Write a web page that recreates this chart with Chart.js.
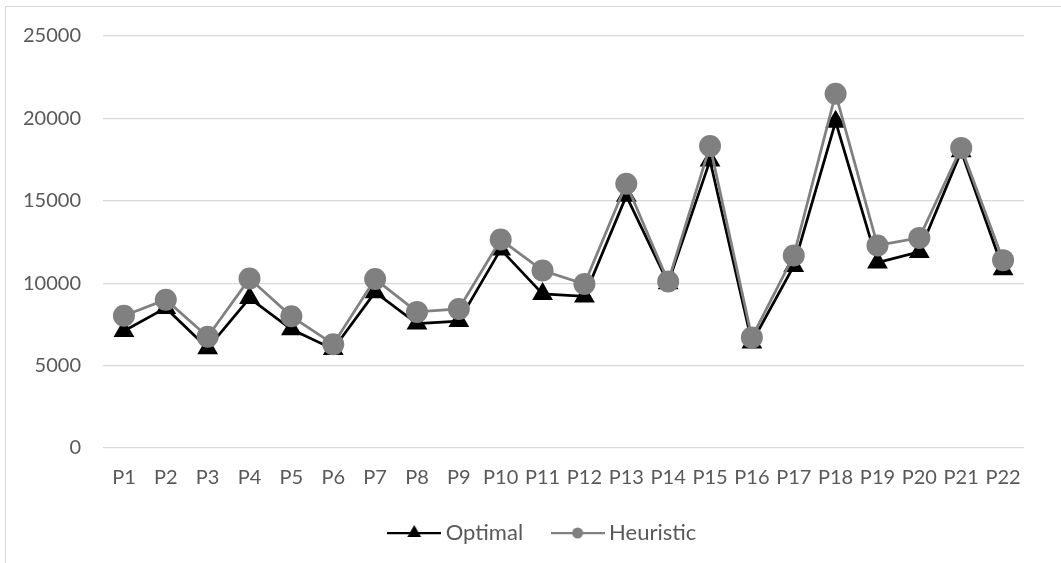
<!DOCTYPE html>
<html><head><meta charset="utf-8">
<script src="https://cdn.jsdelivr.net/npm/chart.js@4/dist/chart.umd.min.js"></script>
<style>
html,body{margin:0;padding:0;background:#fff;}
#wrap{position:relative;width:1061px;height:563px;overflow:hidden;background:#fff;}
#frame{position:absolute;left:5px;top:6px;width:1070px;height:570px;border-left:1.5px solid #d9d9d9;border-top:1.5px solid #d9d9d9;}
canvas{position:absolute;left:0;top:0;}
</style></head>
<body><div id="wrap"><div id="frame"></div><canvas id="c" width="1061" height="563"></canvas></div>
<script>
const categories = ["P1","P2","P3","P4","P5","P6","P7","P8","P9","P10","P11","P12","P13","P14","P15","P16","P17","P18","P19","P20","P21","P22"];
const optimal = [7100,8500,6050,9100,7200,6000,9450,7550,7700,12050,9350,9200,15300,10000,17450,6400,11050,19800,11250,11900,18000,10850];
const heuristic = [8030,9000,6750,10280,7990,6300,10250,8260,8440,12650,10770,9950,16040,10100,18330,6710,11680,21490,12290,12750,18210,11400];
const yTicks = [0,5000,10000,15000,20000,25000];
const seriesNames = ["Optimal","Heuristic"];
const seriesColors = ["#000000","#808080"];
const seriesMarkers = ["triangle","circle"];

const FONT = "Lato";
const TEXT = "#595959";

function legendIcon(color, marker){
  const c = document.createElement('canvas');
  c.width = 54; c.height = 18;
  const g = c.getContext('2d');
  g.strokeStyle = color; g.lineWidth = 2.25;
  g.beginPath(); g.moveTo(0,9); g.lineTo(54,9); g.stroke();
  g.fillStyle = color;
  g.beginPath();
  if (marker === 'triangle') {
    const r = 8;
    g.moveTo(27, 9 - r);
    g.lineTo(27 + r*0.866, 9 + r/2);
    g.lineTo(27 - r*0.866, 9 + r/2);
    g.closePath();
  } else {
    g.arc(27, 9, 5.5, 0, Math.PI*2);
  }
  g.fill();
  return c;
}

const datasets = seriesNames.map((name,i)=>({
  label: name,
  data: i === 0 ? optimal : heuristic,
  borderColor: seriesColors[i],
  backgroundColor: seriesColors[i],
  borderWidth: 2.75,
  pointStyle: seriesMarkers[i],
  pointRadius: i === 0 ? 12 : 11,
  pointHoverRadius: i === 0 ? 12 : 11,
  pointBorderWidth: 0,
  pointBackgroundColor: seriesColors[i],
  tension: 0,
  order: i === 0 ? 2 : 1
}));

const legendShift = {
  id: 'legendShift',
  afterLayout(chart){
    const l = chart.legend;
    if (l) { l.left += 33; l.right += 33; }
  }
};

new Chart(document.getElementById('c'), {
  type: 'line',
  data: { labels: categories, datasets },
  plugins: [legendShift],
  options: {
    responsive: false,
    animation: false,
    devicePixelRatio: 1,
    layout: { padding: { left: 0, right: 37, top: 36, bottom: 9 } },
    plugins: {
      tooltip: { enabled: false },
      legend: {
        position: 'bottom',
        labels: {
          usePointStyle: true,
          pointStyleWidth: 41,
          boxHeight: 18,
          padding: 34,
          color: TEXT,
          font: { family: FONT, size: 22 },
          generateLabels(chart){
            return chart.data.datasets.map((ds,i)=>({
              text: ds.label,
              fillStyle: ds.borderColor,
              strokeStyle: ds.borderColor,
              lineWidth: 0,
              pointStyle: legendIcon(ds.borderColor, seriesMarkers[i]),
              datasetIndex: i,
              hidden: false,
              fontColor: TEXT
            }));
          }
        }
      }
    },
    scales: {
      x: {
        offset: true,
        grid: { display: false, drawTicks: false },
        border: { display: false },
        ticks: { color: TEXT, font: { family: FONT, size: 20 }, padding: 18, maxRotation: 0, autoSkip: false },
        afterFit(s){ s.height = 40; }
      },
      y: {
        min: 0, max: 25000,
        grid: { color: '#d9d9d9', lineWidth: 1.25, drawTicks: false },
        border: { display: false },
        ticks: { color: TEXT, font: { family: FONT, size: 20 }, padding: 22, callback: v => String(v) },
        afterBuildTicks(s){ s.ticks = yTicks.map(v => ({ value: v })); },
        afterFit(s){ s.width = 103; }
      }
    }
  }
});
</script>
</body></html>
